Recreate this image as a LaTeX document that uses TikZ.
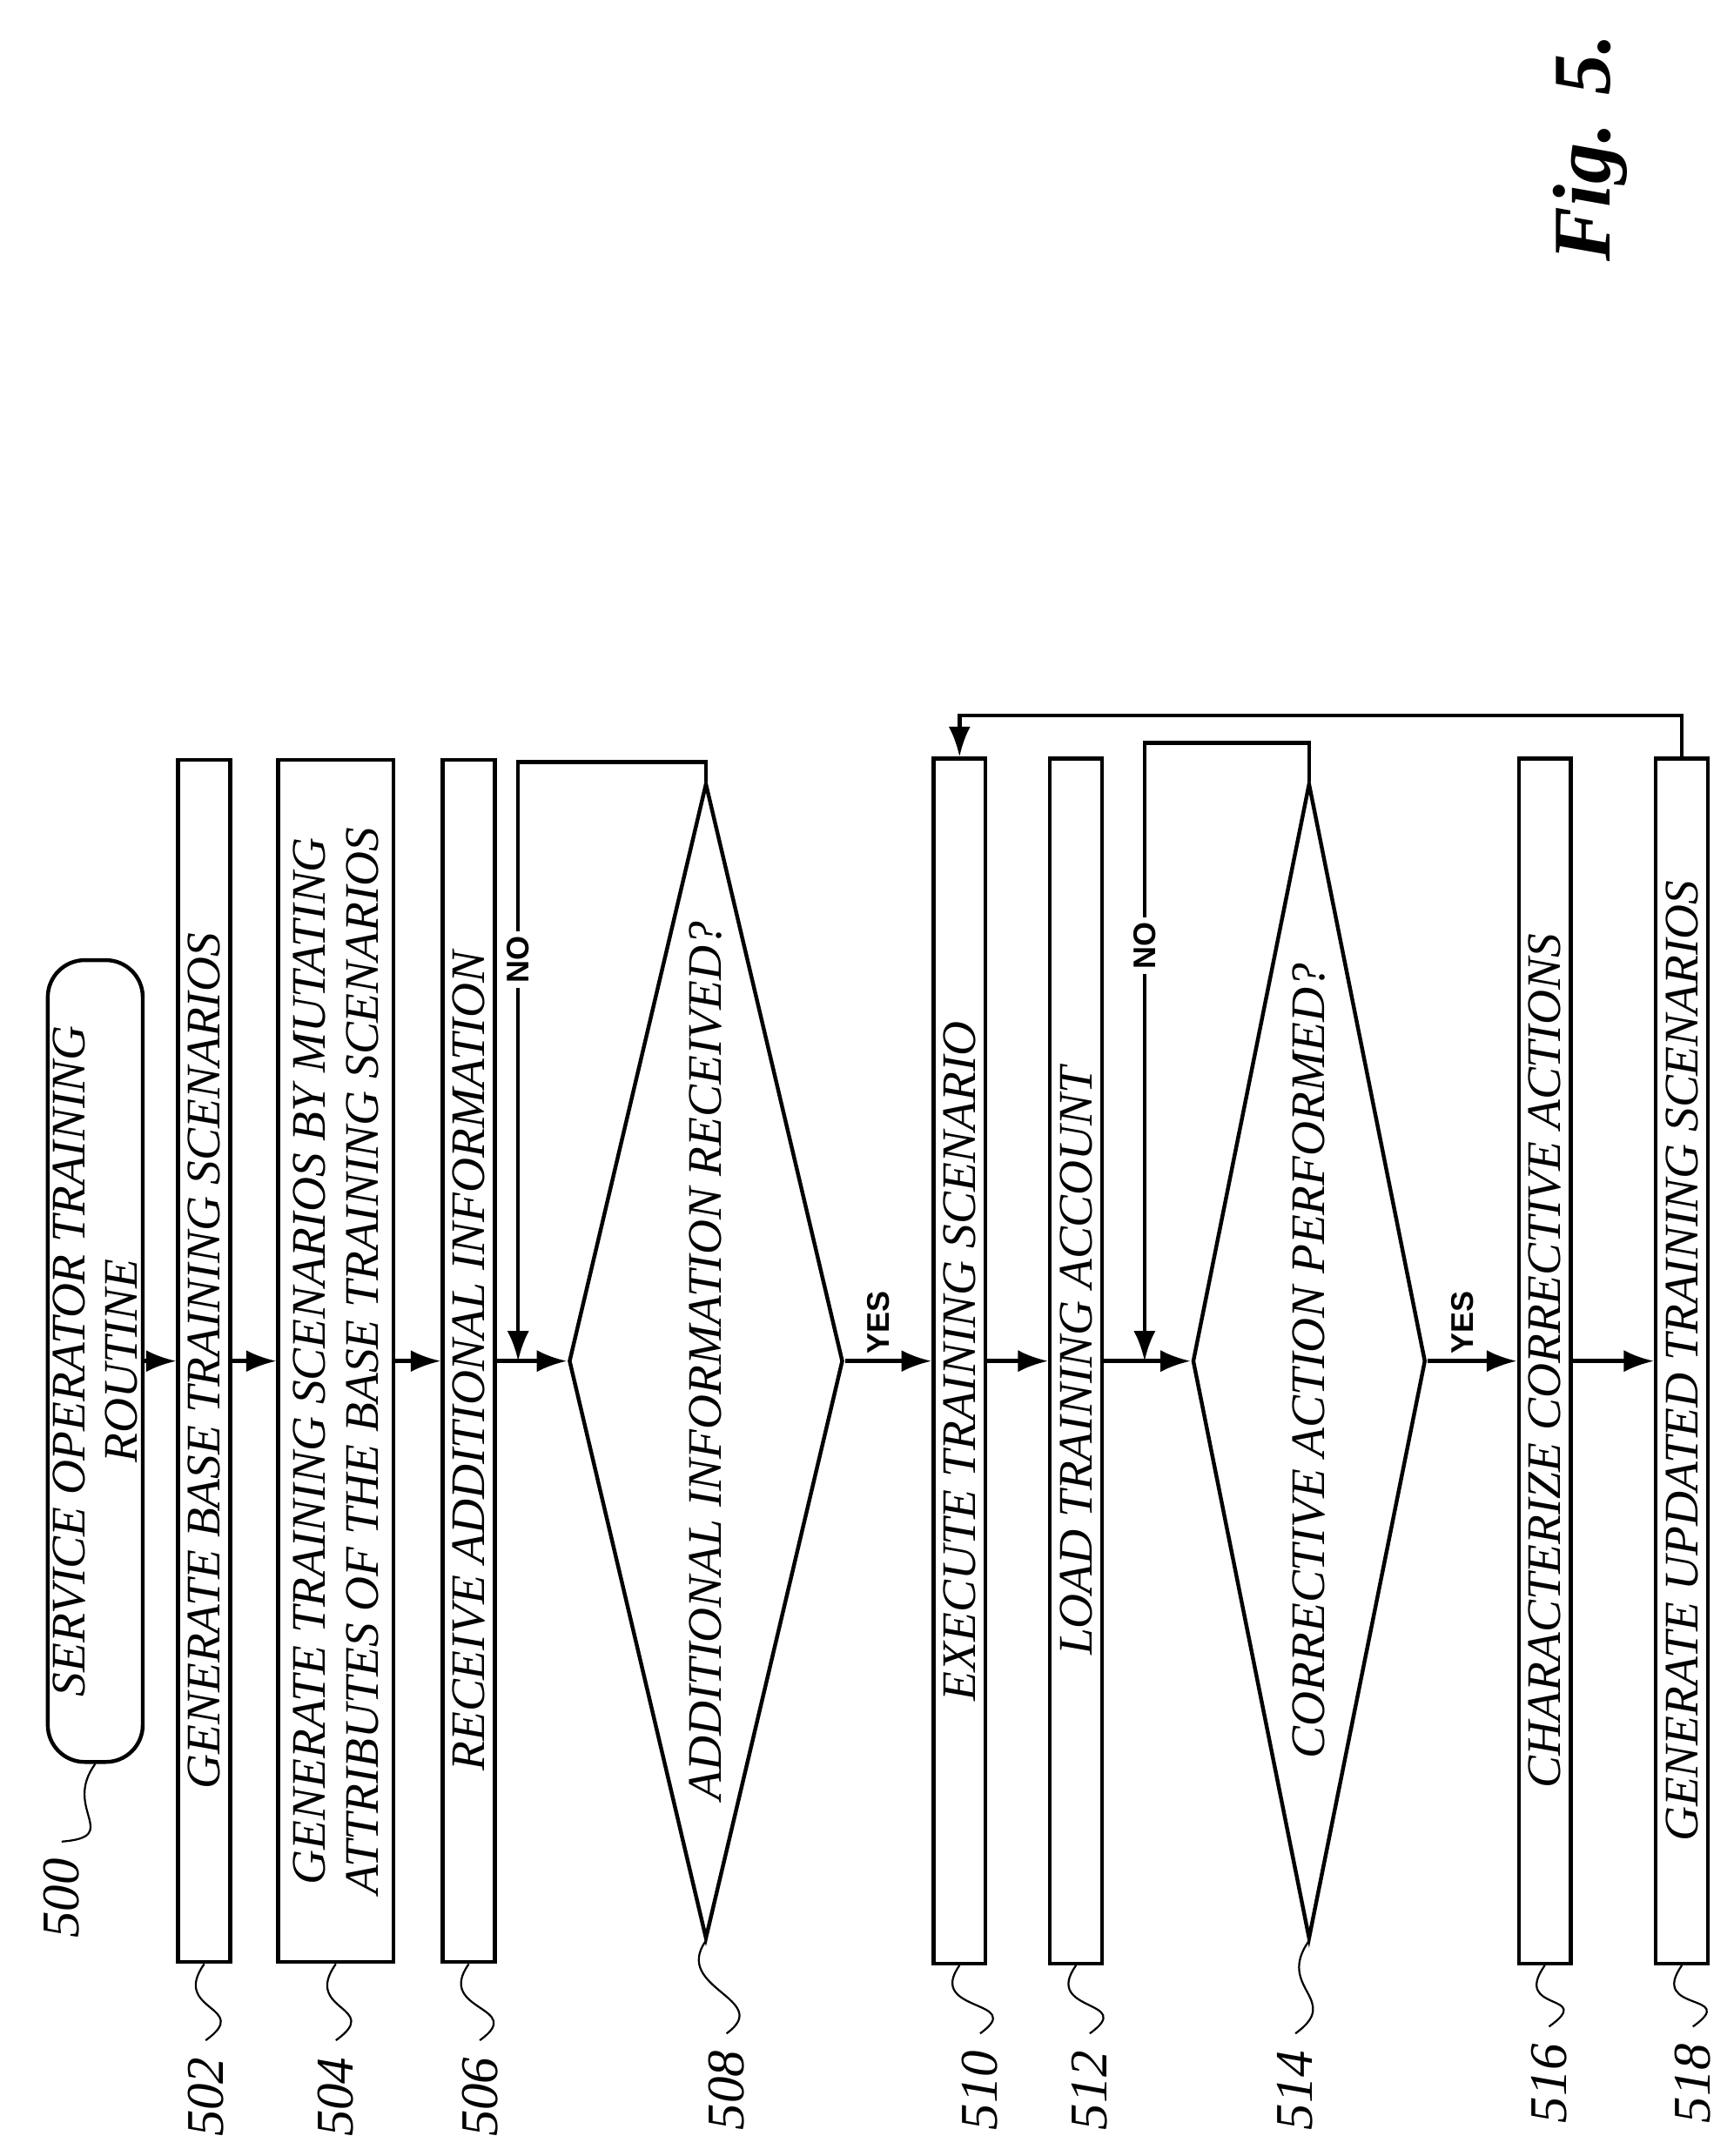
\documentclass[tikz,border=0pt]{standalone}
\usepackage{fontspec}
\setmainfont{Liberation Serif}
\setsansfont{Liberation Sans}
\usetikzlibrary{shapes.geometric,arrows.meta}
\tikzset{
  stage/.style={draw,thick,rotate=90,inner sep=1pt,minimum height=0.38cm,
    minimum width=8.77cm,font=\fontsize{10}{11}\selectfont\itshape,align=center},
  test/.style={draw,thick,diamond,rotate=90,inner sep=0pt,aspect=4.2,
    minimum width=8.43cm,minimum height=2.0cm,font=\fontsize{10}{11}\selectfont\itshape},
  arrow/.style={-{Latex[length=2.2mm,width=1.6mm]},thick},
  lbl/.style={font=\sffamily\bfseries\fontsize{6.5}{7}\selectfont,rotate=90,inner sep=1pt},
  ref/.style={font=\fontsize{11}{12}\selectfont\itshape,rotate=90},
  wig/.style={thin}
}
\begin{document}
\begin{tikzpicture}
\useasboundingbox (0,-15.73) rectangle (12.65,0);

% steps of the routine
\node (start) [draw,thick,rotate=90,rounded corners=0.27cm,minimum width=5.85cm,
  minimum height=0.55cm,inner sep=1pt,align=center,
  font=\fontsize{10}{11}\selectfont\itshape] at (0.695,-9.93)
  {SERVICE OPERATOR TRAINING\\ROUTINE};
\node (s502) [stage] at (1.49,-9.93) {GENERATE BASE TRAINING SCENARIOS};
\node (s504) [stage,minimum height=0.84cm] at (2.45,-9.93)
  {GENERATE TRAINING SCENARIOS BY MUTATING\\ATTRIBUTES OF THE BASE TRAINING SCENARIOS};
\node (s506) [stage] at (3.42,-9.93) {RECEIVE ADDITIONAL INFORMATION};
\node (d508) [test] at (5.15,-9.93) {ADDITIONAL INFORMATION RECEIVED?};
\node (s510) [stage,minimum width=8.79cm] at (7.00,-9.93) {EXECUTE TRAINING SCENARIO};
\node (s512) [stage,minimum width=8.79cm] at (7.85,-9.93) {LOAD TRAINING ACCOUNT};
\node (d514) [test,minimum height=1.7cm] at (9.55,-9.93) {CORRECTIVE ACTION PERFORMED?};
\node (s516) [stage,minimum width=8.79cm] at (11.27,-9.93) {CHARACTERIZE CORRECTIVE ACTIONS};
\node (s518) [stage,minimum width=8.79cm] at (12.27,-9.93) {GENERATE UPDATED TRAINING SCENARIOS};

\coordinate (n508) at (3.78,-9.93);
\coordinate (n514) at (8.35,-9.93);

% connectors
\draw [arrow] (start.south) -- (s502.north);
\draw [arrow] (s502.south) -- (s504.north);
\draw [arrow] (s504.south) -- (s506.north);
\draw [arrow] (s506.south) -- (d508.north);
\draw [arrow] (d508.south) -- node[lbl,anchor=west,yshift=2pt] {YES} (s510.north);
\draw [arrow] (s510.south) -- (s512.north);
\draw [arrow] (s512.south) -- (d514.north);
\draw [arrow] (d514.south) -- node[lbl,anchor=west,yshift=2pt] {YES} (s516.north);
\draw [arrow] (s516.south) -- (s518.north);
\draw [arrow] (d508.east) -- ++(0,0.14) -| (n508);
\draw [arrow] (d514.east) -- ++(0,0.28) -| (n514);
\draw [arrow] (s518.east) -- ++(0,0.30) -| (s510.east);
\node (no508) [lbl,fill=white] at (3.78,-7.0) {NO};
\node (no514) [lbl,fill=white] at (8.35,-6.9) {NO};

% reference numerals
\node (r500) [ref] at (0.45,-13.85) {500};
\node (r502) [ref] at (1.50,-15.30) {502};
\node (r504) [ref] at (2.45,-15.30) {504};
\node (r506) [ref] at (3.50,-15.30) {506};
\node (r508) [ref] at (5.30,-15.25) {508};
\node (r510) [ref] at (7.15,-15.25) {510};
\node (r512) [ref] at (7.95,-15.25) {512};
\node (r514) [ref] at (9.45,-15.25) {514};
\node (r516) [ref] at (11.30,-15.20) {516};
\node (r518) [ref] at (12.35,-15.20) {518};
\draw [wig] (start.west) .. controls (0.45,-13.2) and (0.9,-13.4) .. (r500.east);
\foreach \s/\r in {s502/r502,s504/r504,s506/r506,d508/r508,s510/r510,
  s512/r512,d514/r514,s516/r516,s518/r518}
  \draw [wig] (\s.west) .. controls ++(-0.25,-0.35) and ++(0.35,0.25) .. (\r.east);

\node (fig) [rotate=90,font=\fontsize{17}{19}\selectfont\bfseries\itshape] at (11.6,-1.08) {Fig. 5.};
\end{tikzpicture}
\end{document}
